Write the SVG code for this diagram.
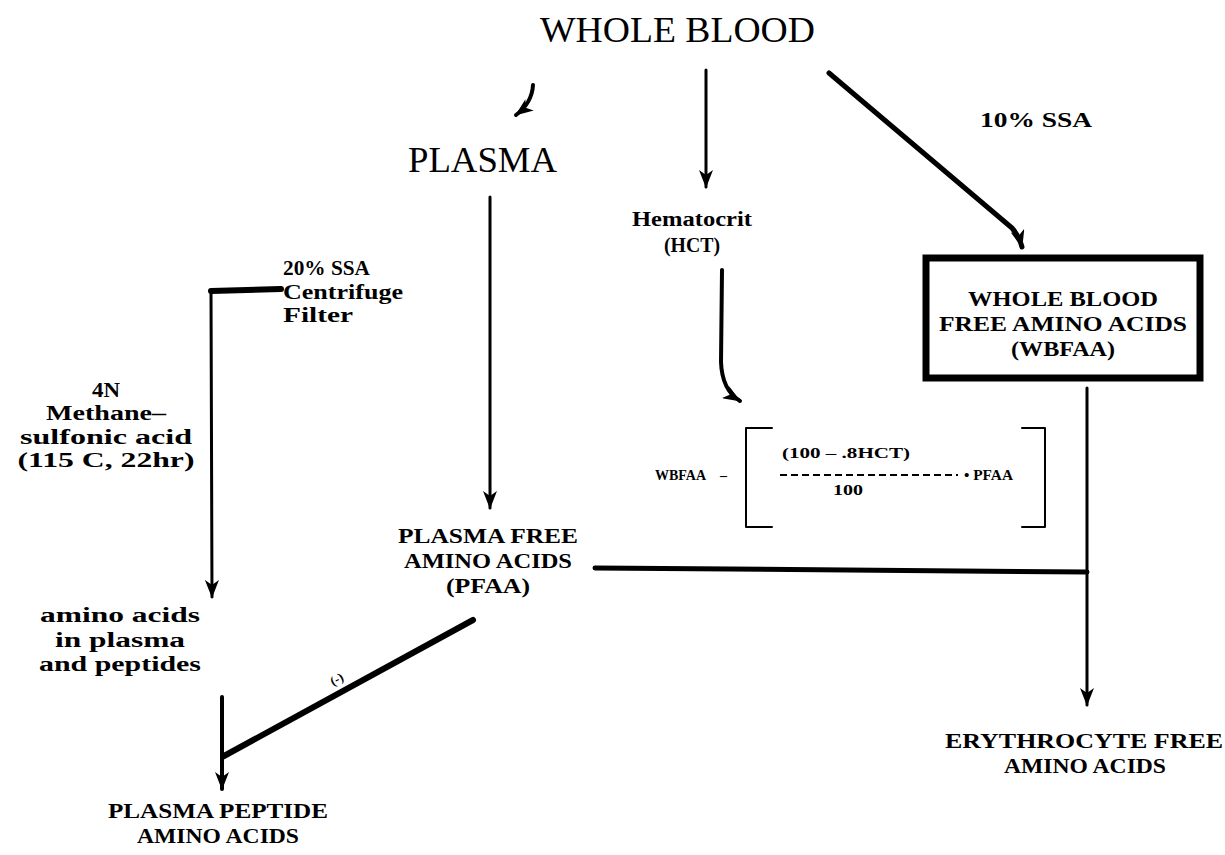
<svg xmlns="http://www.w3.org/2000/svg" width="1225" height="855" viewBox="0 0 1225 855">
<style>
  text { font-family: "Liberation Serif", "DejaVu Serif", serif; fill: #000; }
  .big { font-size: 36px; }
  .mid { font-size: 22px; font-weight: bold; }
  .sm { font-size: 20px; font-weight: bold; }
  .xs { font-size: 14px; font-weight: bold; }
  .ln { fill: none; stroke: #000; stroke-linecap: round; stroke-linejoin: round; }
</style>
<defs>
  <marker id="ah" viewBox="0 0 18 14" markerWidth="18" markerHeight="14" refX="17" refY="7" orient="auto" markerUnits="userSpaceOnUse">
    <path d="M0,0 L18,7 L0,14 L5,7 z" fill="#000"/>
  </marker>
</defs>
<rect width="1225" height="855" fill="#fff"/>

<g id="connectors">
  <path class="ln" d="M533,85 Q532,103 516,115" stroke-width="4" marker-end="url(#ah)"/>
  <path class="ln" d="M706,70 L706,187" stroke-width="3" marker-end="url(#ah)"/>
  <path class="ln" d="M829,73 L1012,228 Q1019,236 1022,247" stroke-width="5" marker-end="url(#ah)"/>
  <path class="ln" d="M490,197 L490,508" stroke-width="3" marker-end="url(#ah)"/>
  <path class="ln" d="M722,270 L721,362 Q722,390 740,401" stroke-width="4" marker-end="url(#ah)"/>
  <path class="ln" d="M1087,388 L1087,705" stroke-width="3" marker-end="url(#ah)"/>
  <path class="ln" d="M595,568 L1087,572" stroke-width="5"/>
  <path class="ln" d="M281,289 L211,291" stroke-width="6"/>
  <path class="ln" d="M211,291 L212,597" stroke-width="3" marker-end="url(#ah)"/>
  <path class="ln" d="M222,697 L222,789" stroke-width="4" marker-end="url(#ah)"/>
  <path class="ln" d="M473,620 L224,756" stroke-width="6"/>
  <text x="333" y="686" transform="rotate(-28 333 686)" style="font-size:13px;font-weight:bold">(-)</text>
</g>

<g id="whole-blood">
  <text class="big" x="540" y="42" textLength="275" lengthAdjust="spacingAndGlyphs">WHOLE BLOOD</text>
</g>

<g id="plasma">
  <text class="big" x="408" y="172" textLength="149" lengthAdjust="spacingAndGlyphs">PLASMA</text>
</g>

<g id="ssa10">
  <text class="sm" x="980" y="127" textLength="112" lengthAdjust="spacingAndGlyphs">10% SSA</text>
</g>

<g id="hematocrit">
  <text class="sm" x="692" y="226" text-anchor="middle" textLength="120" lengthAdjust="spacingAndGlyphs">Hematocrit</text>
  <text class="sm" x="692" y="252" text-anchor="middle" textLength="56" lengthAdjust="spacingAndGlyphs">(HCT)</text>
</g>

<g id="wbfaa">
  <rect x="926" y="258" width="274" height="120" fill="none" stroke="#000" stroke-width="7"/>
  <text class="mid" x="1063" y="306" text-anchor="middle" textLength="190" lengthAdjust="spacingAndGlyphs">WHOLE BLOOD</text>
  <text class="mid" x="1063" y="331" text-anchor="middle" textLength="248" lengthAdjust="spacingAndGlyphs">FREE AMINO ACIDS</text>
  <text class="mid" x="1063" y="356" text-anchor="middle" textLength="104" lengthAdjust="spacingAndGlyphs">(WBFAA)</text>
</g>

<g id="ssa20">
  <text class="sm" x="283" y="275" textLength="87" lengthAdjust="spacingAndGlyphs">20% SSA</text>
  <text class="sm" x="283" y="299" textLength="120" lengthAdjust="spacingAndGlyphs">Centrifuge</text>
  <text class="sm" x="283" y="322" textLength="70" lengthAdjust="spacingAndGlyphs">Filter</text>
</g>

<g id="methane">
  <text class="sm" x="106" y="397" text-anchor="middle" textLength="28" lengthAdjust="spacingAndGlyphs">4N</text>
  <text class="sm" x="106" y="420" text-anchor="middle" textLength="120" lengthAdjust="spacingAndGlyphs">Methane–</text>
  <text class="sm" x="106" y="444" text-anchor="middle" textLength="172" lengthAdjust="spacingAndGlyphs">sulfonic acid</text>
  <text class="sm" x="106" y="467" text-anchor="middle" textLength="177" lengthAdjust="spacingAndGlyphs">(115 C, 22hr)</text>
</g>

<g id="formula">
  <text class="xs" x="655" y="480" textLength="51" lengthAdjust="spacingAndGlyphs">WBFAA</text>
  <text class="xs" x="720" y="480">–</text>
  <path class="ln" d="M772,428 L746,428 L746,527 L772,527" stroke-width="2"/>
  <path class="ln" d="M1022,428 L1045,428 L1045,527 L1022,527" stroke-width="2"/>
  <text class="xs" x="782" y="458" textLength="128" lengthAdjust="spacingAndGlyphs">(100 – .8HCT)</text>
  <line x1="780" y1="475" x2="958" y2="475" stroke="#000" stroke-width="2" stroke-dasharray="7,4"/>
  <text class="xs" x="833" y="495" textLength="30" lengthAdjust="spacingAndGlyphs">100</text>
  <text class="xs" x="964" y="480" textLength="49" lengthAdjust="spacingAndGlyphs">• PFAA</text>
</g>

<g id="pfaa">
  <text class="mid" x="488" y="543" text-anchor="middle" textLength="180" lengthAdjust="spacingAndGlyphs">PLASMA FREE</text>
  <text class="mid" x="488" y="568" text-anchor="middle" textLength="168" lengthAdjust="spacingAndGlyphs">AMINO ACIDS</text>
  <text class="mid" x="488" y="593" text-anchor="middle" textLength="84" lengthAdjust="spacingAndGlyphs">(PFAA)</text>
</g>

<g id="amino-plasma-peptides">
  <text class="sm" x="120" y="622" text-anchor="middle" textLength="160" lengthAdjust="spacingAndGlyphs">amino acids</text>
  <text class="sm" x="120" y="647" text-anchor="middle" textLength="130" lengthAdjust="spacingAndGlyphs">in plasma</text>
  <text class="sm" x="120" y="671" text-anchor="middle" textLength="162" lengthAdjust="spacingAndGlyphs">and peptides</text>
</g>

<g id="plasma-peptide">
  <text class="mid" x="218" y="818" text-anchor="middle" textLength="220" lengthAdjust="spacingAndGlyphs">PLASMA PEPTIDE</text>
  <text class="mid" x="218" y="843" text-anchor="middle" textLength="162" lengthAdjust="spacingAndGlyphs">AMINO ACIDS</text>
</g>

<g id="erythrocyte">
  <text class="mid" x="945" y="748" textLength="278" lengthAdjust="spacingAndGlyphs">ERYTHROCYTE FREE</text>
  <text class="mid" x="1085" y="773" text-anchor="middle" textLength="162" lengthAdjust="spacingAndGlyphs">AMINO ACIDS</text>
</g>
</svg>
